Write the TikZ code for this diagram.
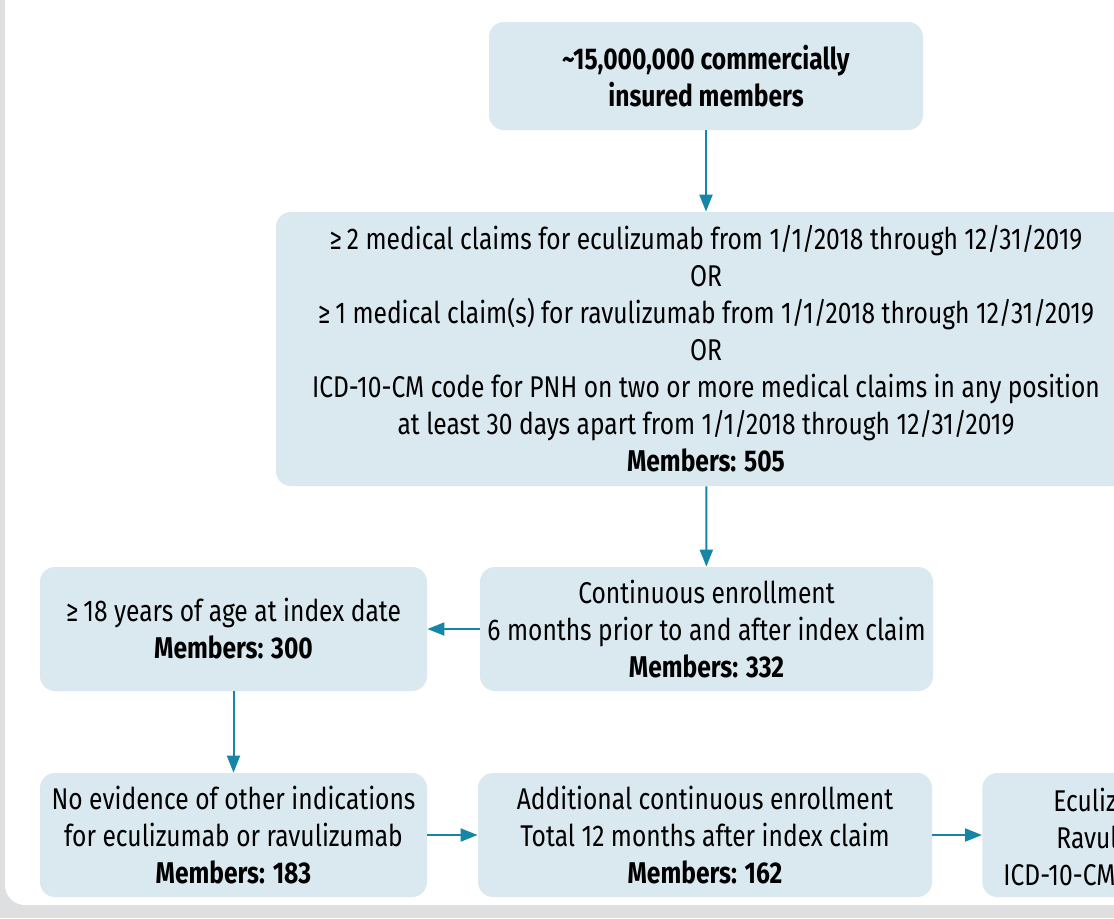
\documentclass[tikz,border=0pt]{standalone}
\usepackage{fontspec}
\setmainfont{Fira Sans}[FakeStretch=0.82]
\usetikzlibrary{positioning,arrows.meta,calc}
\definecolor{boxblue}{RGB}{218,232,239}
\definecolor{arrowteal}{RGB}{22,134,168}
\definecolor{panelgray}{RGB}{222,223,225}

\begin{document}
\begin{tikzpicture}[x=0.5pt, y=-0.5pt,
  box/.style={fill=boxblue, rounded corners=7.5pt, align=center, inner sep=0pt,
    font=\fontsize{15}{18.5}\selectfont},
  arr/.style={draw=arrowteal, line width=1pt, -{Triangle[length=8.5pt,width=6.5pt]}}]
\useasboundingbox (0,0) rectangle (1114,918);
\clip (0,0) rectangle (1114,918);
\fill[panelgray] (0,0) rectangle (1114,918);
\fill[white, rounded corners=10pt] (5,-40) rectangle (1160,905);

\node[box, minimum width=217pt, minimum height=54pt] (members) at (706,76)
  {\textbf{\textasciitilde15,000,000 commercially}\\ \textbf{insured members}};
\node[box, minimum width=430pt, minimum height=137pt] (claims) at (706,349)
  {≥\,2 medical claims for eculizumab from 1/1/2018 through 12/31/2019\\ OR\\
   ≥\,1 medical claim(s) for ravulizumab from 1/1/2018 through 12/31/2019\\ OR\\
   ICD-10-CM code for PNH on two or more medical claims in any position\\
   at least 30 days apart from 1/1/2018 through 12/31/2019\\ \textbf{Members: 505}};
\node[box, minimum width=226.5pt, minimum height=62pt] (enroll) at (706.5,629)
  {Continuous enrollment\\ 6 months prior to and after index claim\\ \textbf{Members: 332}};
\node[box, minimum width=193.5pt, minimum height=62pt] (adult) at (233.5,629)
  {≥\,18 years of age at index date\\ \textbf{Members: 300}};
\node[box, minimum width=193.5pt, minimum height=62pt] (noevid) at (233.5,835)
  {No evidence of other indications\\ for eculizumab or ravulizumab\\ \textbf{Members: 183}};
\node[box, minimum width=227pt, minimum height=62pt] (addl) at (705,835)
  {Additional continuous enrollment\\ Total 12 months after index claim\\ \textbf{Members: 162}};
\node[box, minimum width=227pt, minimum height=62pt, anchor=west] (final) at (982,835) {};
% partly visible text of the last box
\node[anchor=base west, inner sep=0pt, font=\fontsize{15}{18.5}\selectfont] at (1053,811) {Eculizumab};
\node[anchor=base west, inner sep=0pt, font=\fontsize{15}{18.5}\selectfont] at (1056,848) {Ravulizumab};
\node[anchor=base west, inner sep=0pt, font=\fontsize{15}{18.5}\selectfont] at (1003,885) {ICD-10-CM};

\draw[arr] (members) -- (claims);
\draw[arr] (claims) -- (enroll);
\draw[arr] (enroll) -- (adult);
\draw[arr] (adult) -- (noevid);
\draw[arr] (noevid) -- (addl);
\draw[arr] (addl) -- (final);
\end{tikzpicture}
\end{document}
